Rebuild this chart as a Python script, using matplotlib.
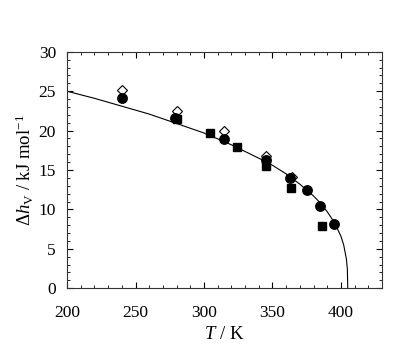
import matplotlib
matplotlib.use("Agg")
import matplotlib.pyplot as plt
from matplotlib.ticker import MultipleLocator

plt.rcParams['font.family'] = ['Liberation Serif', 'DejaVu Serif']
plt.rcParams['mathtext.fontset'] = 'custom'
plt.rcParams['mathtext.rm'] = 'Liberation Serif'
plt.rcParams['mathtext.it'] = 'Liberation Serif:italic'

# fitted curve
curve_T = [200, 220, 240, 260, 280, 300, 320, 340, 350, 360, 370, 380, 385,
           390, 395, 400, 402, 404, 404.7, 405]
curve_h = [25.0, 24.1, 23.1, 22.1, 20.9, 19.7, 18.2, 16.5, 15.6, 14.5, 13.2,
           11.7, 10.8, 9.7, 8.4, 6.6, 5.5, 3.7, 2.4, 0.0]

# open diamonds
dia_T = [240, 280, 314.6, 345, 364]
dia_h = [25.2, 22.5, 19.9, 16.8, 14.1]

# filled circles
cir_T = [240, 279, 314.6, 345, 362.8, 375, 384.7, 395.1]
cir_h = [24.1, 21.6, 18.9, 16.3, 14.0, 12.45, 10.45, 8.1]

# filled squares
sq_T = [280.5, 304.4, 324.3, 345, 363.3, 385.9]
sq_h = [21.5, 19.65, 17.9, 15.5, 12.75, 7.9]

fig = plt.figure(figsize=(4.09, 3.48), dpi=100)
ax = fig.add_axes([0.164, 0.172, 0.770, 0.679])

ax.plot(curve_T, curve_h, color='black', lw=0.8, zorder=2)
ax.plot(dia_T, dia_h, linestyle='none', marker='D', markersize=5.4,
        markerfacecolor='white', markeredgecolor='black', markeredgewidth=0.8, zorder=3)
ax.plot(cir_T, cir_h, linestyle='none', marker='o', markersize=6.8,
        color='black', zorder=4)
ax.plot(sq_T, sq_h, linestyle='none', marker='s', markersize=5.8,
        color='black', zorder=5)

ax.set_xlim(200, 430)
ax.set_ylim(0, 30)
ax.xaxis.set_major_locator(MultipleLocator(50))
ax.xaxis.set_minor_locator(MultipleLocator(10))
ax.yaxis.set_major_locator(MultipleLocator(5))
ax.yaxis.set_minor_locator(MultipleLocator(1))
ax.tick_params(which='both', direction='in', top=True, right=True,
               labelsize=12.5, colors='black')
ax.tick_params(which='major', length=4, width=0.8)
ax.tick_params(which='minor', length=2, width=0.6)
ax.tick_params(axis='x', which='major', pad=12)
ax.tick_params(axis='y', which='major', pad=8)
for s in ax.spines.values():
    s.set_linewidth(0.8)
    s.set_color('#333333')

ax.set_xlabel(r'$\mathit{T}$ / K', fontsize=13.5, labelpad=4)
ax.set_ylabel(r'$\Delta \mathit{h}_{\mathrm{V}}$ / kJ mol$^{-1}$', fontsize=13.5, labelpad=2)

fig.savefig('out.png', dpi=100)
